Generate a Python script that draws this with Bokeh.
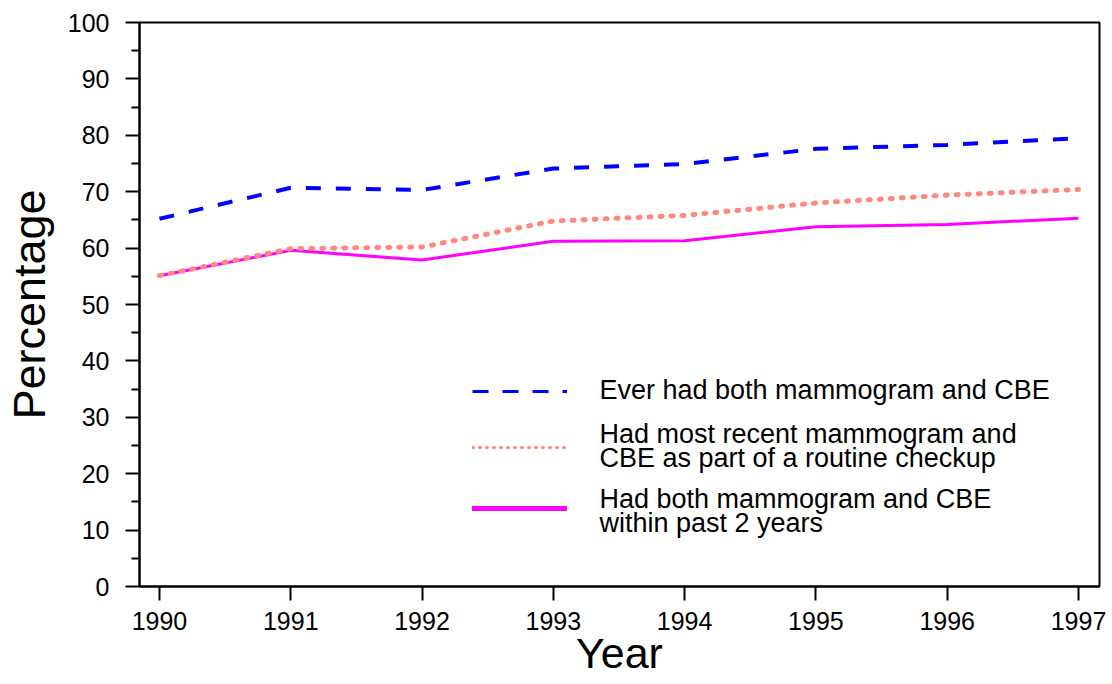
from bokeh.plotting import figure
from bokeh.models import Range1d, FixedTicker, Legend, LegendItem, Label
from bokeh.embed import file_html
from bokeh.resources import INLINE

# ---- data ----
years = [1990, 1991, 1992, 1993, 1994, 1995, 1996, 1997]
ever_both = [65.2, 70.7, 70.3, 74.1, 74.9, 77.6, 78.3, 79.5]
routine_checkup = [55.1, 59.9, 60.2, 64.8, 65.8, 68.0, 69.4, 70.4]
past_2_years = [55.1, 59.6, 57.9, 61.2, 61.3, 63.8, 64.2, 65.3]
y_ticks = [0, 10, 20, 30, 40, 50, 60, 70, 80, 90, 100]
y_minor_ticks = [5, 15, 25, 35, 45, 55, 65, 75, 85, 95]
legend_text = [
    ["Ever had both mammogram and CBE"],
    ["Had most recent mammogram and", "CBE as part of a routine checkup"],
    ["Had both mammogram and CBE", "within past 2 years"],
]
x_title = "Year"
y_title = "Percentage"

FONT = "Liberation Sans"
BLUE = "#0000FF"
SALMON = "#FF8880"
MAGENTA = "#FF00FF"

p = figure(width=1112, height=684, output_backend="svg", toolbar_location=None,
           x_range=Range1d(1989.848, 1997.16), y_range=Range1d(0, 100),
           min_border_left=137, min_border_right=13, min_border_top=22,
           min_border_bottom=98)
p.grid.visible = False
p.outline_line_color = "black"
p.outline_line_width = 2
p.background_fill_color = "white"
p.border_fill_color = "white"

for ax in (p.xaxis[0], p.yaxis[0]):
    ax.axis_line_width = 2
    ax.axis_line_color = "black"
    ax.major_tick_line_width = 2
    ax.major_tick_line_color = "black"
    ax.minor_tick_line_width = 2
    ax.minor_tick_line_color = "black"
    ax.major_tick_in = 0
    ax.major_tick_out = 14
    ax.minor_tick_in = 0
    ax.major_label_text_font = FONT
    ax.major_label_text_font_size = "25px"
    ax.major_label_text_color = "black"
    ax.axis_label_text_font = FONT
    ax.axis_label_text_font_style = "normal"
    ax.axis_label_text_color = "black"

yax = p.yaxis[0]
yax.ticker = FixedTicker(ticks=y_ticks, minor_ticks=y_minor_ticks)
yax.minor_tick_out = 8
yax.major_label_standoff = 16
yax.axis_label = y_title
yax.axis_label_text_font_size = "45px"
yax.axis_label_standoff = 10

xax = p.xaxis[0]
xax.ticker = FixedTicker(ticks=years, minor_ticks=[])
xax.minor_tick_out = 0
xax.major_label_standoff = 11
xax.axis_label = x_title
xax.axis_label_text_font_size = "43px"
xax.axis_label_standoff = -4

# ---- data lines ----
p.line(years, past_2_years, line_color=MAGENTA, line_width=3)
p.line(years, ever_both, line_color=BLUE, line_width=4, line_dash="15 15")
p.line(years, routine_checkup, line_color=SALMON, line_width=5,
       line_dash="2 9", line_cap="round")

# ---- legend: sample glyphs (no data drawn) + text lines ----
nan = float("nan")
sample_renderers = [
    p.line(x=[nan], y=[nan], line_color=BLUE, line_width=3, line_dash="16 14"),
    p.line(x=[nan], y=[nan], line_color=SALMON, line_width=3, line_dash="1 6",
           line_cap="round"),
    p.line(x=[nan], y=[nan], line_color=MAGENTA, line_width=5, line_cap="round"),
]
sample_center_y = [195, 139, 78]          # screen px above the frame bottom
text_baselines = [[197], [153, 129], [88, 64]]
for r, cy, lines, bls in zip(sample_renderers, sample_center_y, legend_text, text_baselines):
    lg = Legend(items=[LegendItem(label=" ", renderers=[r])],
                location=(333, cy - 3), glyph_width=95, glyph_height=6,
                label_height=0, label_width=0, label_standoff=0,
                label_text_font_size="1px", spacing=0, padding=0, margin=0,
                border_line_color=None, background_fill_alpha=0)
    p.add_layout(lg)
    for txt, bl in zip(lines, bls):
        p.add_layout(Label(x=460, y=bl, x_units="screen", y_units="screen", text=txt,
                           text_align="left", text_baseline="alphabetic",
                           text_font=FONT, text_font_size="27px", text_color="black"))

open("out.html", "w").write(file_html(p, INLINE))
